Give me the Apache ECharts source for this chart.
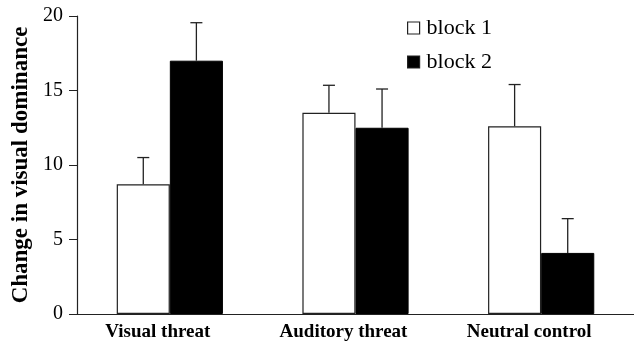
<!DOCTYPE html>
<html>
<head>
<meta charset="utf-8">
<script src="https://cdn.jsdelivr.net/npm/echarts@6/dist/echarts.min.js"></script>
<style>html,body{margin:0;padding:0;background:#fff;}#c{width:634px;height:343px;}</style>
</head>
<body>
<div id="c"></div>
<script>
var categories = ['Visual threat', 'Auditory threat', 'Neutral control'];
var seriesNames = ['block 1', 'block 2'];
var block1Mean = [8.7, 13.5, 12.6];
var block1Err = [1.8, 1.85, 2.8];
var block2Mean = [17.0, 12.5, 4.1];
var block2Err = [2.55, 2.6, 2.3];
var yTicks = [0, 5, 10, 15, 20];

var BAR_FRAC = 0.286;
var serif = '"Liberation Serif", "DejaVu Serif", serif';
var lineColor = '#222';

function errData(mean, err) {
  return mean.map(function (m, i) { return [i, m, m + err[i]]; });
}
function errRenderer(side) {
  return function (params, api) {
    var idx = api.value(0);
    var lo = api.coord([idx, api.value(1)]);
    var hi = api.coord([idx, api.value(2)]);
    var band = api.size([1, 0])[0];
    var bw = band * BAR_FRAC;
    var x = lo[0] + side * bw / 2;
    var cap = 6;
    var style = { stroke: lineColor, lineWidth: 1.3 };
    return {
      type: 'group',
      children: [
        { type: 'line', shape: { x1: x, y1: lo[1], x2: x, y2: hi[1] }, style: style },
        { type: 'line', shape: { x1: x - cap, y1: hi[1], x2: x + cap, y2: hi[1] }, style: style }
      ]
    };
  };
}

var chart = echarts.init(document.getElementById('c'), null, { renderer: 'canvas' });
chart.setOption({
  animation: false,
  backgroundColor: '#fff',
  grid: { left: 77, right: -5, top: 16, bottom: 29 },
  legend: {
    data: seriesNames,
    orient: 'vertical',
    left: 402,
    top: 12,
    icon: 'rect',
    itemWidth: 12,
    itemHeight: 12,
    itemGap: 12,
    itemStyle: { borderColor: lineColor, borderWidth: 1.2 },
    textStyle: { fontFamily: serif, fontSize: 22, color: '#000', padding: [0, 0, 0, 2] }
  },
  xAxis: {
    type: 'category',
    data: categories,
    axisLine: { show: true, lineStyle: { color: lineColor, width: 1.2 } },
    axisTick: { show: false },
    axisLabel: {
      fontFamily: serif, fontSize: 19, fontWeight: 'bold', color: '#000',
      margin: 9, padding: [0, 24, 0, 0]
    }
  },
  yAxis: {
    type: 'value',
    min: yTicks[0],
    max: yTicks[yTicks.length - 1],
    interval: 5,
    name: 'Change in visual dominance',
    nameLocation: 'middle',
    nameGap: 42,
    nameTextStyle: { fontFamily: serif, fontSize: 23, fontWeight: 'bold', color: '#000' },
    axisLine: { show: true, lineStyle: { color: lineColor, width: 1.2 } },
    axisTick: { show: true, inside: false, length: 8, lineStyle: { color: lineColor } },
    splitLine: { show: false },
    axisLabel: { fontFamily: serif, fontSize: 20, color: '#000', margin: 14 }
  },
  series: [
    {
      name: seriesNames[0], type: 'bar', data: block1Mean,
      barWidth: (BAR_FRAC * 100) + '%', barGap: '0%',
      itemStyle: { color: '#fff', borderColor: lineColor, borderWidth: 1.2 }
    },
    {
      name: seriesNames[1], type: 'bar', data: block2Mean,
      barWidth: (BAR_FRAC * 100) + '%', barGap: '0%',
      itemStyle: { color: '#000', borderColor: '#000', borderWidth: 1 }
    },
    {
      type: 'custom', renderItem: errRenderer(-1), data: errData(block1Mean, block1Err),
      encode: { x: 0, y: [1, 2] }, z: 5, silent: true
    },
    {
      type: 'custom', renderItem: errRenderer(1), data: errData(block2Mean, block2Err),
      encode: { x: 0, y: [1, 2] }, z: 5, silent: true
    }
  ]
});
</script>
</body>
</html>
